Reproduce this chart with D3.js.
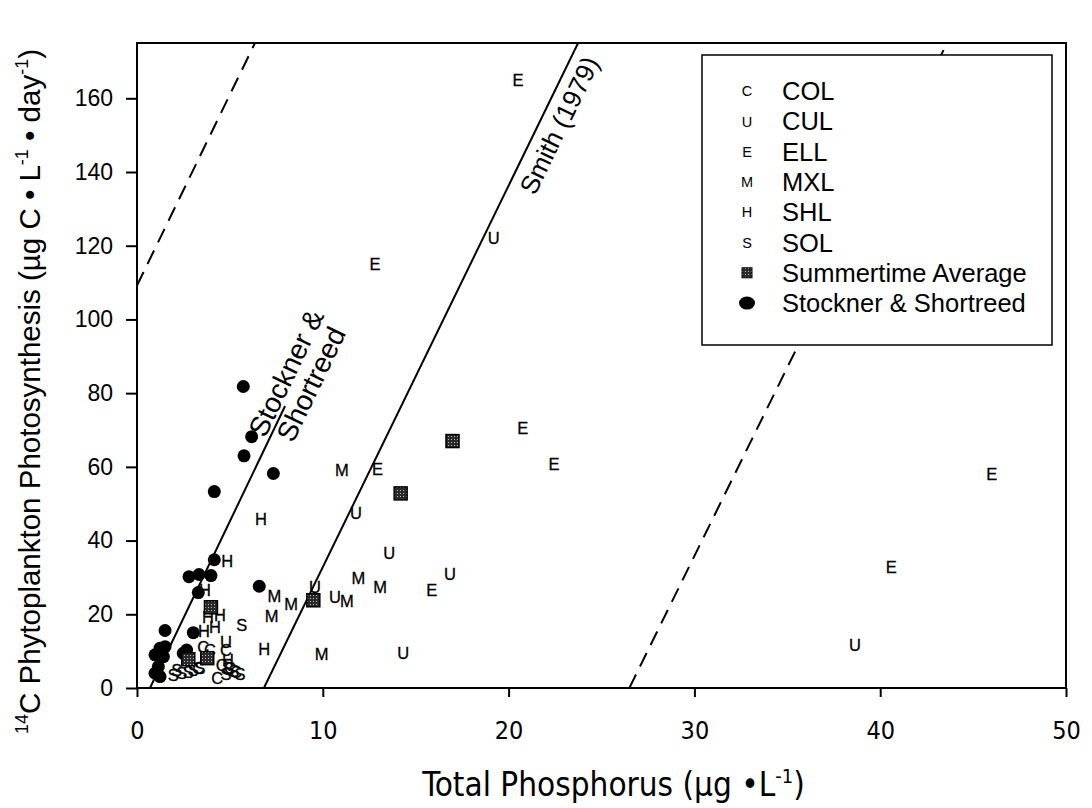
<!DOCTYPE html>
<html><head><meta charset="utf-8">
<script src="https://cdn.jsdelivr.net/npm/d3@7"></script>
<style>
body{margin:0;background:#fff;}
svg text{font-family:"Liberation Sans",Arial,sans-serif;fill:#000;}
.narrow{font-family:"Liberation Sans Narrow","Arial Narrow","DejaVu Sans Condensed",sans-serif !important;}
</style></head>
<body>
<svg id="c" width="1092" height="808"></svg>
<script>
// ---- data ----
const xTicks = [0, 10, 20, 30, 40, 50];
const yTicks = [0, 20, 40, 60, 80, 100, 120, 140, 160];
const legendLabels = ["COL", "CUL", "ELL", "MXL", "SHL", "SOL", "Summertime Average", "Stockner & Shortreed"];

const COL = [[3.57,11.2],[3.93,10.3],[4.79,10.3],[4.56,6.3],[5.0,5.4],[5.33,4.4],[4.32,2.6],[3.3,5.4]];
const CUL = [[19.2,122.2],[11.79,47.4],[13.58,36.5],[16.85,31.0],[10.66,24.7],[9.58,27.4],[14.33,9.4],[38.64,11.7],[4.79,12.6]];
const ELL = [[20.5,164.9],[12.81,115.1],[20.76,70.4],[22.44,60.7],[12.95,59.3],[15.86,26.5],[46.0,58.0],[40.6,32.7]];
const MXL = [[11.02,59.1],[13.08,27.4],[11.91,29.9],[11.29,23.5],[8.29,22.9],[7.39,25.0],[7.25,19.6],[9.94,9.3]];
const SHL = [[6.67,45.9],[4.86,34.4],[6.84,10.5],[3.66,26.7],[3.82,19.3],[4.47,19.9],[4.20,16.6],[3.61,15.5],[4.9,7.6]];
const SOL = [[5.64,17.1],[2.14,4.9],[2.41,4.0],[2.76,4.4],[3.03,4.9],[3.39,5.4],[1.95,3.5],[4.9,5.4],[5.22,4.6],[5.54,3.8],[4.79,3.8]];
const summerAvg = [[16.98,67.0],[14.19,52.8],[9.49,23.8],[3.98,21.9],[3.78,8.1],[2.76,7.8]];
const stocknerPts = [[5.72,81.8],[6.17,68.2],[5.76,63.0],[7.34,58.2],[4.16,53.3],[4.16,34.8],[2.80,30.2],[3.34,30.8],[3.98,30.5],[3.30,25.9],[6.58,27.6],[1.51,15.6],[3.03,15.0],[1.24,10.8],[1.51,11.2],[0.97,9.0],[1.42,8.5],[2.67,10.3],[2.49,9.4],[1.15,5.8],[0.97,4.0],[1.24,3.1]];

const stocknerLine = [[0.70,0],[7.97,76.5]];
const smithLine = [[6.83,0],[23.74,175]];
const lowerBound = [[0,109.2],[6.35,175]];
const upperBound = [[26.5,0],[43.6,175]];

// ---- layout ----
const L = 137, R = 1066, T = 43, B = 688;
const svg = d3.select("#c");
const x = d3.scaleLinear().domain([0, 50]).range([L, R]);
const y = d3.scaleLinear().domain([0, 175]).range([B, T]);

const defs = svg.append("defs");
const pat = defs.append("pattern").attr("id","half").attr("width",3).attr("height",3).attr("patternUnits","userSpaceOnUse");
pat.append("rect").attr("width",3).attr("height",3).attr("fill","#2a2a2a");
pat.append("rect").attr("x",1).attr("y",1).attr("width",1).attr("height",1).attr("fill","#bbb");
defs.append("clipPath").attr("id","clip").append("rect").attr("x",L).attr("y",T).attr("width",R-L).attr("height",B-T);

// axes
const xAxis = svg.append("g").attr("transform",`translate(0,${B})`)
  .call(d3.axisBottom(x).tickValues(xTicks).tickSize(9).tickSizeOuter(0).tickPadding(24).tickFormat(d3.format("d")));
xAxis.select(".domain").remove();
xAxis.selectAll("line").attr("stroke","#000").attr("stroke-width",2);
xAxis.selectAll("text").attr("class","narrow").attr("font-size",25);

const yAxis = svg.append("g").attr("transform",`translate(${L},0)`)
  .call(d3.axisLeft(y).tickValues(yTicks).tickSize(11).tickSizeOuter(0).tickPadding(13).tickFormat(d3.format("d")));
yAxis.select(".domain").remove();
yAxis.selectAll("line").attr("stroke","#000").attr("stroke-width",2);
yAxis.selectAll("text").attr("font-size",23);

svg.append("rect").attr("x",L).attr("y",T).attr("width",R-L).attr("height",B-T)
  .attr("fill","none").attr("stroke","#000").attr("stroke-width",2);

// lines
const line = d3.line().x(d=>x(d[0])).y(d=>y(d[1]));
const lg = svg.append("g").attr("clip-path","url(#clip)");
lg.append("path").datum(stocknerLine).attr("d",line).attr("stroke","#000").attr("stroke-width",2).attr("fill","none");
lg.append("path").datum(smithLine).attr("d",line).attr("stroke","#000").attr("stroke-width",2).attr("fill","none");
[lowerBound, upperBound].forEach(b=>lg.append("path").datum(b).attr("d",line).attr("stroke","#000")
  .attr("stroke-width",2).attr("fill","none").attr("stroke-dasharray","15,9"));

// line labels
const ang = -64.2;
function rotText(px, py, txt, fs){
  svg.append("text").attr("transform",`translate(${x(px)},${y(py)}) rotate(${ang})`)
    .attr("font-size",fs).text(txt);
}
rotText(6.89, 67.6, "Stockner &", 28);
rotText(8.40, 66.3, "Shortreed", 28);
rotText(21.42, 133.4, "Smith (1979)", 26);

// points
const pg = svg.append("g");
function letters(data, ch){
  pg.selectAll(null).data(data).enter().append("text")
    .attr("x",d=>x(d[0])).attr("y",d=>y(d[1])).attr("text-anchor","middle").attr("dy","0.36em")
    .attr("font-size",16.5).attr("stroke","#000").attr("stroke-width",0.3).text(ch);
}
pg.selectAll(null).data(stocknerPts).enter().append("circle")
  .attr("cx",d=>x(d[0])).attr("cy",d=>y(d[1])).attr("r",6.5).attr("fill","#000");
letters(COL,"C"); letters(CUL,"U"); letters(ELL,"E"); letters(MXL,"M"); letters(SHL,"H"); letters(SOL,"S");
pg.selectAll(null).data(summerAvg).enter().append("rect")
  .attr("x",d=>x(d[0])-6.5).attr("y",d=>y(d[1])-6.5).attr("width",13).attr("height",13)
  .attr("fill","url(#half)").attr("stroke","#000").attr("stroke-width",1.5);

// legend
const leg = svg.append("g");
leg.append("rect").attr("x",702).attr("y",55).attr("width",350).attr("height",290)
  .attr("fill","#fff").attr("stroke","#000").attr("stroke-width",1.5);
const sym = ["C","U","E","M","H","S"];
legendLabels.forEach((t,i)=>{
  const yy = 91 + i*30.3;
  if(i<6){
    leg.append("text").attr("x",747).attr("y",yy).attr("dy","0.36em").attr("text-anchor","middle").attr("font-size",14.5).text(sym[i]);
  } else if(i===6){
    leg.append("rect").attr("x",742).attr("y",yy-5).attr("width",10).attr("height",10).attr("fill","url(#half)").attr("stroke","#000").attr("stroke-width",1);
  } else {
    leg.append("ellipse").attr("cx",747).attr("cy",yy).attr("rx",8).attr("ry",6.5).attr("fill","#000");
  }
  leg.append("text").attr("x",782).attr("y",yy).attr("dy","0.36em").attr("font-size",25.5).text(t);
});

// axis titles
const xt = svg.append("text").attr("class","narrow").attr("x",(L+R)/2+12).attr("y",796).attr("text-anchor","middle").attr("font-size",33);
xt.append("tspan").text("Total Phosphorus (\u00b5g \u2022L");
xt.append("tspan").attr("dy",-13).attr("font-size",20).text("-1");
xt.append("tspan").attr("dy",13).text(")");

const yt = svg.append("text").attr("transform",`translate(40,${(T+B)/2+26}) rotate(-90)`).attr("text-anchor","middle").attr("font-size",29.5);
yt.append("tspan").attr("dy",-12).attr("font-size",18).text("14");
yt.append("tspan").attr("dy",12).text("C Phytoplankton Photosynthesis (\u00b5g C \u2022 L");
yt.append("tspan").attr("dy",-12).attr("font-size",18).text("-1");
yt.append("tspan").attr("dy",12).text(" \u2022 day");
yt.append("tspan").attr("dy",-12).attr("font-size",18).text("-1");
yt.append("tspan").attr("dy",12).text(")");
</script>
</body></html>
